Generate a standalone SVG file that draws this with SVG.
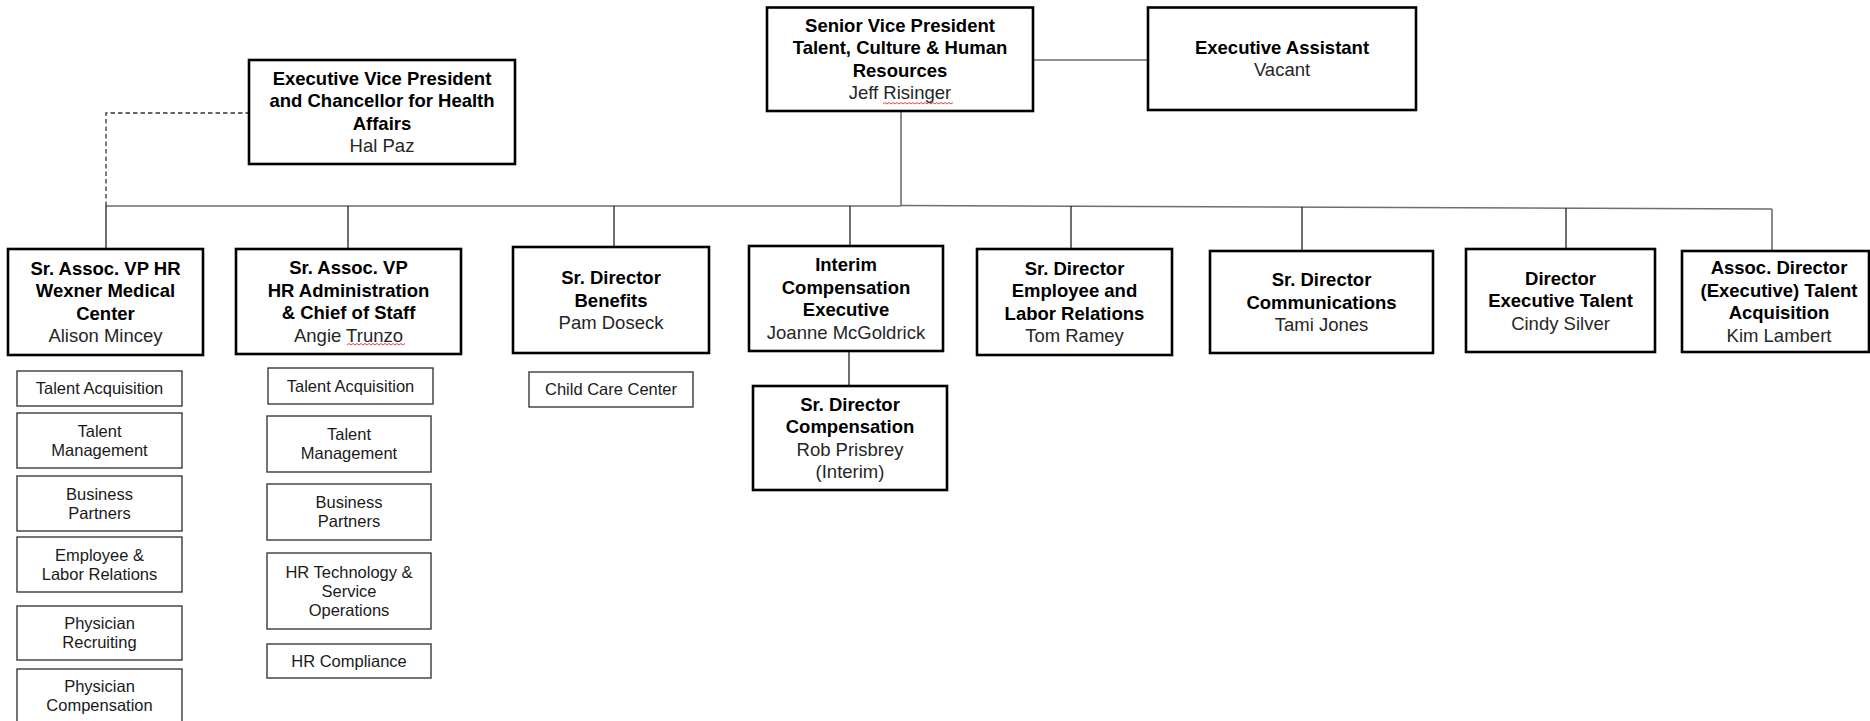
<svg xmlns="http://www.w3.org/2000/svg" width="1870" height="721" viewBox="0 0 1870 721">
<style>
.bx{fill:#fff;stroke:#000;stroke-width:2.6}
.sb{fill:#fff;stroke:#3a3a3a;stroke-width:1.4}
.t{font-family:"Liberation Sans",Arial,sans-serif;font-size:18.5px;text-anchor:middle;fill:#000;font-weight:bold}
.n{font-family:"Liberation Sans",Arial,sans-serif;font-size:18.5px;text-anchor:middle;fill:#262626}
.s{font-family:"Liberation Sans",Arial,sans-serif;font-size:16.5px;text-anchor:middle;fill:#1a1a1a}
.c{fill:none;stroke:#6e6e6e;stroke-width:1.6}
.d{fill:none;stroke:#222;stroke-width:1.3}
.sq{fill:none;stroke:#e03030;stroke-width:0.9}
</style>
<rect width="1870" height="721" fill="#fff"/>
<g id="connectors">
<line class="c" x1="1033" y1="60" x2="1148" y2="60"/>
<line class="c" x1="901" y1="111" x2="901" y2="206"/>
<line class="c" x1="106" y1="206" x2="901" y2="206"/>
<line class="c" x1="901" y1="205.5" x2="1772" y2="209"/>
<line class="d" x1="106" y1="206" x2="106" y2="249"/>
<line class="d" x1="348" y1="206" x2="348" y2="249"/>
<line class="d" x1="614" y1="206" x2="614" y2="247"/>
<line class="d" x1="850" y1="206" x2="850" y2="246"/>
<line class="d" x1="1071" y1="206" x2="1071" y2="249"/>
<line class="d" x1="1302" y1="207" x2="1302" y2="251"/>
<line class="d" x1="1566" y1="208" x2="1566" y2="249"/>
<line class="c" x1="1772" y1="209" x2="1772" y2="251"/>
<line class="d" x1="849" y1="351" x2="849" y2="386"/>
<path d="M106 206 V113 H249" fill="none" stroke="#333" stroke-width="1.3" stroke-dasharray="4.5 3"/>
</g>
<g id="svp">
<rect class="bx" x="767" y="7.5" width="266" height="103.5"/>
<text class="t" x="900" y="31.9">Senior Vice President</text>
<text class="t" x="900" y="54.4">Talent, Culture &amp; Human</text>
<text class="t" x="900" y="76.9">Resources</text>
<text class="n" x="900" y="99.4">Jeff Risinger</text>
<path class="sq" d="M883 104 l2 -1.5 l2 1.5 l2 -1.5 l2 1.5 l2 -1.5 l2 1.5 l2 -1.5 l2 1.5 l2 -1.5 l2 1.5 l2 -1.5 l2 1.5 l2 -1.5 l2 1.5 l2 -1.5 l2 1.5 l2 -1.5 l2 1.5 l2 -1.5 l2 1.5 l2 -1.5 l2 1.5 l2 -1.5 l2 1.5 l2 -1.5 l2 1.5 l2 -1.5 l2 1.5 l2 -1.5 l2 1.5 l2 -1.5 l2 1.5 l2 -1.5 l2 1.5 l2 -1.5"/>
</g>
<g id="exec-assistant">
<rect class="bx" x="1148" y="7.5" width="268" height="102.5"/>
<text class="t" x="1282" y="53.9">Executive Assistant</text>
<text class="n" x="1282" y="76.4">Vacant</text>
</g>
<g id="evp">
<rect class="bx" x="249" y="60" width="266" height="104"/>
<text class="t" x="382" y="84.9">Executive Vice President</text>
<text class="t" x="382" y="107.4">and Chancellor for Health</text>
<text class="t" x="382" y="129.9">Affairs</text>
<text class="n" x="382" y="152.4">Hal Paz</text>
</g>
<g id="wexner">
<rect class="bx" x="8" y="249" width="195" height="106"/>
<text class="t" x="105.5" y="274.9">Sr. Assoc. VP HR</text>
<text class="t" x="105.5" y="297.4">Wexner Medical</text>
<text class="t" x="105.5" y="319.9">Center</text>
<text class="n" x="105.5" y="342.4">Alison Mincey</text>
</g>
<g id="wexner-units">
<rect class="sb" x="17" y="371" width="165" height="35"/>
<text class="s" x="99.5" y="394.4">Talent Acquisition</text>
<rect class="sb" x="17" y="413" width="165" height="55"/>
<text class="s" x="99.5" y="436.9">Talent</text>
<text class="s" x="99.5" y="455.9">Management</text>
<rect class="sb" x="17" y="476" width="165" height="55"/>
<text class="s" x="99.5" y="499.9">Business</text>
<text class="s" x="99.5" y="518.9">Partners</text>
<rect class="sb" x="17" y="537" width="165" height="55"/>
<text class="s" x="99.5" y="560.9">Employee &amp;</text>
<text class="s" x="99.5" y="579.9">Labor Relations</text>
<rect class="sb" x="17" y="606" width="165" height="54"/>
<text class="s" x="99.5" y="629.4">Physician</text>
<text class="s" x="99.5" y="648.4">Recruiting</text>
<rect class="sb" x="17" y="669" width="165" height="55"/>
<text class="s" x="99.5" y="692.4">Physician</text>
<text class="s" x="99.5" y="711.4">Compensation</text>
</g>
<g id="hr-admin">
<rect class="bx" x="236" y="249" width="225" height="105"/>
<text class="t" x="348.5" y="274.4">Sr. Assoc. VP</text>
<text class="t" x="348.5" y="296.9">HR Administration</text>
<text class="t" x="348.5" y="319.4">&amp; Chief of Staff</text>
<text class="n" x="348.5" y="341.9">Angie Trunzo</text>
<path class="sq" d="M347 345 l2 -1.5 l2 1.5 l2 -1.5 l2 1.5 l2 -1.5 l2 1.5 l2 -1.5 l2 1.5 l2 -1.5 l2 1.5 l2 -1.5 l2 1.5 l2 -1.5 l2 1.5 l2 -1.5 l2 1.5 l2 -1.5 l2 1.5 l2 -1.5 l2 1.5 l2 -1.5 l2 1.5 l2 -1.5 l2 1.5 l2 -1.5 l2 1.5 l2 -1.5 l2 1.5 l2 -1.5"/>
</g>
<g id="hr-admin-units">
<rect class="sb" x="268" y="368" width="165" height="36"/>
<text class="s" x="350.5" y="391.9">Talent Acquisition</text>
<rect class="sb" x="267" y="416" width="164" height="56"/>
<text class="s" x="349" y="440.4">Talent</text>
<text class="s" x="349" y="459.4">Management</text>
<rect class="sb" x="267" y="484" width="164" height="56"/>
<text class="s" x="349" y="508.4">Business</text>
<text class="s" x="349" y="527.4">Partners</text>
<rect class="sb" x="267" y="553" width="164" height="76"/>
<text class="s" x="349" y="577.9">HR Technology &amp;</text>
<text class="s" x="349" y="596.9">Service</text>
<text class="s" x="349" y="615.9">Operations</text>
<rect class="sb" x="267" y="644" width="164" height="34"/>
<text class="s" x="349" y="666.9">HR Compliance</text>
</g>
<g id="benefits">
<rect class="bx" x="513" y="247" width="196" height="106"/>
<text class="t" x="611" y="284.1">Sr. Director</text>
<text class="t" x="611" y="306.6">Benefits</text>
<text class="n" x="611" y="329.1">Pam Doseck</text>
</g>
<g id="child-care">
<rect class="sb" x="529" y="372" width="164" height="35"/>
<text class="s" x="611" y="395.4">Child Care Center</text>
</g>
<g id="interim-comp">
<rect class="bx" x="749" y="246" width="194" height="105"/>
<text class="t" x="846" y="271.4">Interim</text>
<text class="t" x="846" y="293.9">Compensation</text>
<text class="t" x="846" y="316.4">Executive</text>
<text class="n" x="846" y="338.9">Joanne McGoldrick</text>
</g>
<g id="sr-dir-comp">
<rect class="bx" x="753" y="386" width="194" height="104"/>
<text class="t" x="850" y="410.9">Sr. Director</text>
<text class="t" x="850" y="433.4">Compensation</text>
<text class="n" x="850" y="455.9">Rob Prisbrey</text>
<text class="n" x="850" y="478.4">(Interim)</text>
</g>
<g id="employee-labor">
<rect class="bx" x="977" y="249" width="195" height="106"/>
<text class="t" x="1074.5" y="274.9">Sr. Director</text>
<text class="t" x="1074.5" y="297.4">Employee and</text>
<text class="t" x="1074.5" y="319.9">Labor Relations</text>
<text class="n" x="1074.5" y="342.4">Tom Ramey</text>
</g>
<g id="communications">
<rect class="bx" x="1210" y="251" width="223" height="102"/>
<text class="t" x="1321.5" y="286.1">Sr. Director</text>
<text class="t" x="1321.5" y="308.6">Communications</text>
<text class="n" x="1321.5" y="331.1">Tami Jones</text>
</g>
<g id="exec-talent">
<rect class="bx" x="1466" y="249" width="189" height="103"/>
<text class="t" x="1560.5" y="284.6">Director</text>
<text class="t" x="1560.5" y="307.1">Executive Talent</text>
<text class="n" x="1560.5" y="329.6">Cindy Silver</text>
</g>
<g id="talent-acquisition">
<rect class="bx" x="1682" y="251" width="187" height="101"/>
<text class="t" x="1779" y="274.4">Assoc. Director</text>
<text class="t" x="1779" y="296.9">(Executive) Talent</text>
<text class="t" x="1779" y="319.4">Acquisition</text>
<text class="n" x="1779" y="341.9">Kim Lambert</text>
</g>
</svg>
